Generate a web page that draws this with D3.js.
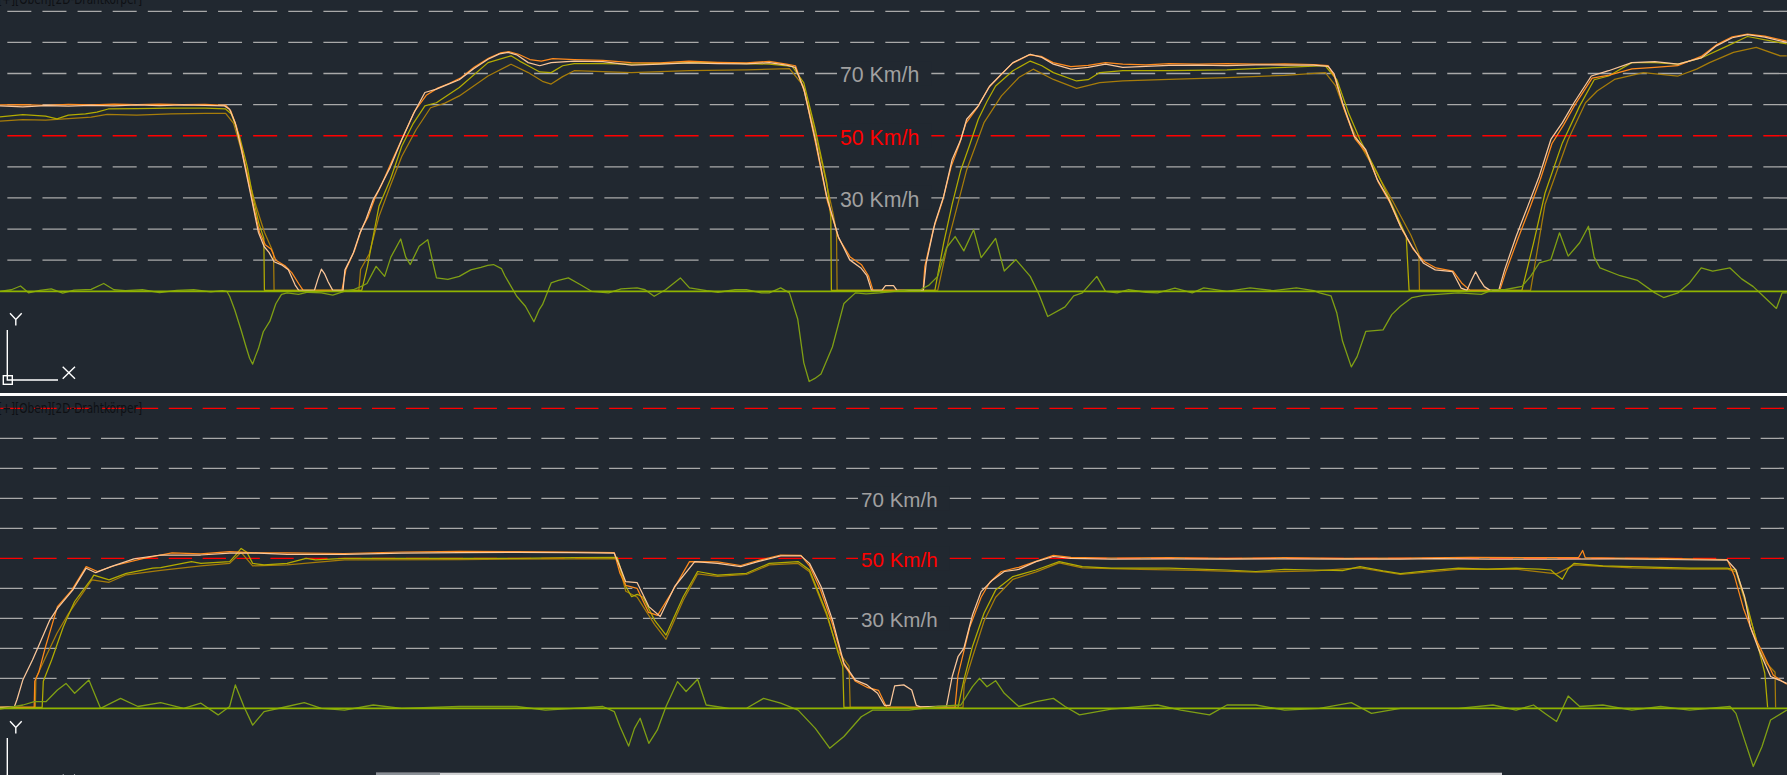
<!DOCTYPE html>
<html><head><meta charset="utf-8">
<script src="https://cdn.jsdelivr.net/npm/d3@7"></script>
<style>html,body{margin:0;padding:0;background:#212830;overflow:hidden}</style>
</head><body>
<svg id="c" width="1787" height="775"></svg>
<script>
// ---------- DATA (distance units 0..1568, speed in km/h) ----------
const viewTitle = "[+][Oben][2D-Drahtkörper]";
const gridValuesTop = [10,20,30,40,50,60,70,80,90];
const redValuesTop = [50];
const gridValuesBottom = [10,20,30,40,50,60,70,80,90,100];
const redValuesBottom = [50,100];
const labelValues = [70,50,30];
const labelUnit = "Km/h";

const topPeach = [[0,59.6],[20,59.3],[40,59.7],[60,59.5],[80,59.8],[100,59.6],[120,59.9],[140,59.7],[160,59.9],[180,59.8],[197,59.6],[201.5,58.5],[206.5,54],[211.6,46],[216.6,37],[221.7,28],[226.7,19],[231.7,14.4],[236,12.5],[240.5,9.5],[247,8.5],[253,6.9],[259,2],[262,0.4],[270,0.3],[276,0.4],[279,4],[282,7.1],[285,5.5],[288,3],[292,0.3],[301,0.3],[302.6,6.8],[310,12.3],[315.8,18.7],[321,23],[327.5,29.5],[332.5,32.7],[342.6,40],[352.6,48.8],[362.7,57],[372.8,63.9],[382.9,65],[393,66.5],[403,68],[415.6,71.5],[428.2,74.6],[438.3,76.3],[445.8,76.8],[453.4,76],[463.5,73.5],[473.6,72.5],[483.6,73.5],[503.8,74],[529,73.8],[554,72.7],[579,73],[604.5,73.4],[629.7,73.2],[655,73.1],[675,73.5],[690,72.7],[697.7,72],[705.3,65],[715.4,48.8],[725.4,30.5],[735.5,17.6],[745.6,10.1],[755.7,7.4],[760.7,5],[764.7,0.3],[774,0.4],[777,1.8],[784,1.8],[787,0.3],[810.2,0.3],[812.7,9],[820.3,21.9],[828,30.5],[835.5,42.4],[843.1,48.8],[848.2,55.3],[858.4,59.6],[868.5,66],[878.7,69.8],[888.8,73.5],[904,76.2],[914.2,75.2],[924.3,73],[939.6,71.4],[954.8,72],[970,73],[985.2,72],[1005.5,72.3],[1025.8,72.6],[1051.2,72.7],[1076.6,72.5],[1102,72.8],[1127.3,72.7],[1152.7,72.7],[1165.4,72.3],[1170.5,70],[1178,60.6],[1188.2,49.9],[1198.4,45.5],[1208.5,35.9],[1218.7,29.5],[1228.8,20.9],[1239,14.4],[1249.1,9],[1259.3,6.9],[1274.5,6.3],[1282.1,1],[1287.2,0.3],[1291,3.5],[1294.8,6.3],[1298,4],[1302.4,1.5],[1307.5,0.3],[1315.1,0.4],[1320.2,6.9],[1330.3,17.6],[1340.5,27.3],[1350.6,37],[1360.8,48.8],[1370.9,54.2],[1381.1,60.6],[1396.3,69.2],[1411.5,70.9],[1431.8,73.5],[1452.1,73.8],[1472.4,73],[1492.7,75],[1506,78.9],[1520,81.5],[1533.3,82.5],[1548.5,81.7],[1567.8,80]];
const topOrange = [[0,59.9],[20,60],[40,59.8],[60,60.1],[80,59.9],[100,60.2],[120,60],[140,60.2],[160,60],[180,60.1],[198,59.8],[202.5,58],[207.5,53],[212.6,45],[217.6,36],[222.7,27],[227.7,19],[232.7,15],[238,13.5],[242,10],[250,8.2],[256,6],[262,2.5],[266,0.3],[300,0.3],[303.5,7],[311,13],[317,19.8],[323,24],[329,30],[334.5,34],[344,42],[354,50],[364,58],[374,63],[384,65.3],[394,66.8],[404,68.5],[416,72],[429,75],[439,76.6],[447,77],[455,76.2],[465,74.5],[475,74],[485,74.8],[504,74.5],[529,74.2],[554,73.5],[579,73.4],[604.5,74],[629.7,73.6],[655,73.4],[675,73.9],[690,73],[698,72.5],[706,64],[716,47],[726,29],[736,17],[746,11],[756,8.5],[762,5],[766,0.3],[810,0.3],[811.5,8],[819,20],[827,29],[834.5,40],[842,47.5],[847.5,54],[857.5,59],[867.5,65.5],[878,69.5],[888,73.2],[903,76],[913.5,75.5],[924,73.5],[939.6,72.2],[954.8,72.6],[970,73.5],[985.2,73],[1005.5,72.8],[1025.8,73.2],[1051.2,73],[1076.6,73.2],[1102,73],[1127.3,73.1],[1152.7,72.9],[1165.4,72.5],[1171,69],[1179,59],[1189,49],[1199,44.5],[1209.5,35],[1219.7,28.5],[1230,20],[1240,13.5],[1250,9.5],[1260,7.5],[1275,6.5],[1283,2.5],[1290,0.3],[1316,0.3],[1321,6],[1331,16],[1341.5,26],[1351.6,36],[1361.8,47.5],[1372,53.5],[1382,60],[1397,68.5],[1412,69.5],[1432,71.5],[1452,72],[1472,72.5],[1492.7,75.5],[1506,79.2],[1520,81.8],[1533.3,82.7],[1548.5,82],[1567.8,80.4]];
const topOlive = [[0,56.1],[20,56.8],[40,56.3],[50,55.4],[60,56.6],[75,57],[85,57.6],[95,58.6],[120,58.7],[150,58.9],[180,58.9],[198,58.6],[203,57],[210,50],[217,40],[222,30],[227,22],[231.5,17],[232,0.3],[317.4,0.3],[322.4,8],[332.5,27.3],[342.6,36],[352.6,46.7],[362.7,54],[372.8,59.6],[382.9,60.6],[403,65.5],[428.2,73.5],[448.4,75.7],[456,74],[463.5,72.5],[473.6,70.5],[483.6,70.3],[493.7,72.5],[503.8,73.2],[529,73.2],[554,73],[579,73.2],[604.5,73.5],[629.7,73.5],[655,73.2],[675,73],[695.2,72.3],[705.3,67],[715.4,52],[725.4,35],[729,24],[729.5,0.3],[820.3,0.3],[828,15.5],[835.5,28],[843.1,39],[850.8,47],[858.4,55.3],[866,61],[873.6,66],[888.8,70.9],[904,74],[914.2,72.5],[924.3,70.3],[944.6,67.6],[954.8,68],[965,70.3],[985.2,70.9],[1025.8,70.9],[1076.6,71.2],[1127.3,72],[1162.9,72.5],[1173,68],[1183.2,57.4],[1193.3,48.8],[1208.5,38],[1223.7,26],[1233.9,17.6],[1236.4,0.3],[1335.4,0.3],[1345.6,15.5],[1355.7,31.6],[1370.9,47.7],[1386.1,59.6],[1398.8,68],[1411.5,69.2],[1431.8,73.5],[1452.1,73.5],[1472.4,73],[1492.7,75],[1513,78.4],[1533.3,81.9],[1553.6,80.5],[1567.8,79.5]];
const topGold = [[0,54.7],[20,55.2],[40,55],[60,55.5],[80,56],[94,56.9],[120,56.6],[150,57],[180,57.2],[198,57.2],[205,54],[212,45],[219,35],[225,27],[232,19],[238,14],[240,12],[240.5,0.3],[314.9,0.3],[316.4,7],[324,12],[332.5,24],[342.6,34],[352.6,43.4],[365.2,52],[377.8,59],[390.4,60.5],[403,62.8],[428.2,69.2],[448.4,73],[463.5,70.3],[476,67.5],[483.6,66.6],[493.7,69],[503.8,70.9],[554,70.3],[604.5,70.9],[655,71.2],[692.7,71.6],[705,66],[715,51],[725,35],[731,25],[734,19],[734.5,0.3],[822.8,0.3],[833,17.6],[848.2,39],[863.4,54.2],[878.7,62.8],[893.9,68.7],[906.6,71.4],[924.3,68.1],[944.6,65.2],[965,67.1],[985.2,67.6],[1025.8,68.1],[1076.6,68.7],[1127.3,69.4],[1162.9,70.3],[1172,66],[1182,56],[1192,48],[1208,38],[1222,29],[1238,18],[1245,12],[1245.5,0.3],[1343,0.3],[1355.7,28],[1376,48.8],[1391.2,60.6],[1401.4,64.4],[1416.6,68.1],[1442,70.3],[1472.4,69.2],[1488.7,71.4],[1500,73.5],[1521,76.8],[1541,78.4],[1562,75.7],[1567.8,75.7]];
const topAccel = [[0,0],[10,0.5],[18,1.7],[25,-0.5],[35,0.3],[45,0.8],[55,-0.6],[65,0.4],[80,0.6],[91,2.5],[100,0.5],[110,0.2],[125,0.5],[140,-0.4],[155,0.3],[170,0.5],[185,-0.2],[195,0.2],[199,0],[201.5,-1.6],[206,-6],[211.6,-12.5],[216,-18],[219,-21.5],[221.7,-23.4],[224,-21],[226.7,-18.5],[231,-13],[236.8,-9.6],[242,-4],[247,-1],[252,-0.5],[262,-1],[270,-0.3],[282,-0.5],[292,-1.2],[302,0],[310,0.5],[317,1.6],[322,2.5],[330,8],[337.5,4.8],[343,11],[351.6,16.8],[356,11],[360,8.6],[367.8,14.5],[375.3,16.6],[380,9],[383,4.3],[393,3.8],[403,4.8],[413,6.9],[422,7.7],[428,8.3],[433,8.6],[440,7.3],[443,5],[453.4,-1.6],[461,-4.8],[468.5,-9.8],[473,-6],[476,-4.3],[483.6,2.7],[490,3.5],[498.7,4.3],[509,2.2],[519,0],[534,-0.5],[545,0.8],[559,1.1],[566,0.5],[574,-1.6],[584,0.5],[597,4.3],[605,1.1],[620,0.2],[630,-0.3],[645,0.5],[655,0.5],[668,-0.5],[675,-0.5],[685,1.1],[692.7,-0.5],[700,-9],[705.3,-23],[710,-29],[715,-28],[720.4,-26.6],[730.4,-17.9],[740.5,-3.9],[750.6,-0.5],[760,-0.8],[772,-0.5],[797.5,0.5],[807.6,0.5],[815.2,2],[822.8,4.8],[830.5,14],[838.1,17.6],[845.7,13],[854.3,19.8],[860.9,10.8],[867.5,14],[873.6,17],[881.2,6.5],[891.4,10.2],[904,4.8],[911.7,-1],[919.3,-8.1],[934.5,-5],[942.1,-1.5],[949.7,-0.5],[962.4,4.8],[970,0],[980.2,-0.5],[990.3,0.5],[1005.5,-0.3],[1015.7,-0.5],[1030.9,1],[1046.1,-0.5],[1056.3,1.1],[1076.6,0],[1096.9,1.1],[1117.2,0.2],[1137.5,1.1],[1152.7,0.2],[1157.8,-0.5],[1167.9,-1.5],[1173,-7],[1178,-16],[1185.7,-24.3],[1190.8,-21],[1198.4,-12.9],[1213.6,-12.4],[1221.2,-7.5],[1228.8,-4.8],[1239,-2],[1249.1,-1.3],[1279.6,-0.5],[1299.9,-1],[1310,0.5],[1320.2,0.5],[1335.4,1.6],[1343,4.8],[1350.6,9.1],[1360.8,10.2],[1368.4,18.8],[1376,11.3],[1386.1,15.6],[1393.8,20.9],[1398.8,11],[1403.9,7.5],[1421.6,5],[1436.9,3.5],[1452.1,-0.5],[1459.7,-2],[1472.4,-0.5],[1482.5,2.7],[1492.7,7.5],[1502.8,6.5],[1518,7.5],[1528.2,4],[1538.4,1.5],[1548.5,-2],[1558.7,-5.5],[1563.7,-0.5],[1567.8,-0.5]];

const bottomPeach = [[0,0.3],[12.6,0.5],[15,3],[20,9.4],[28.5,16.1],[33.6,20.5],[43.7,29.4],[50.4,33.3],[63.8,39.4],[75.6,46.7],[84,45.2],[97.4,47.2],[117.5,49.8],[141,51.1],[176,51.1],[201.5,51.7],[226.7,51.7],[252,51.3],[302,51.3],[352.6,51.7],[403,51.9],[453.4,52],[503.8,51.9],[539,51.7],[544,47.2],[549,42.2],[559,41.9],[569.3,33.9],[579.3,30.6],[592,40.6],[609.6,48.9],[629.7,48.3],[649.9,47.2],[665,48.9],[685,50.8],[702.8,50.8],[710.3,48.3],[720.4,40.6],[730.5,29.4],[740.5,15],[750.6,9.4],[760.7,7.8],[770,5],[776,1],[781,1],[785,7.5],[793,7.8],[800,6.1],[804,1],[807.6,0.5],[830.5,0.7],[835.5,10.6],[840.6,17.2],[845.7,20],[853.3,31.1],[860.9,38.9],[871,42.8],[881.2,45.6],[893.9,46.3],[909,48.9],[924.3,50.6],[939.6,50],[975,49.7],[1026,49.8],[1076,49.7],[1127,49.8],[1178,49.7],[1229,49.7],[1260,49.9],[1310,49.7],[1360,49.7],[1420,49.8],[1460,49.6],[1515.5,49.4],[1523.2,46.1],[1530.8,37.2],[1535.8,27.2],[1543.4,19.4],[1553.6,10.6],[1567.8,8.3]];
const bottomOrange = [[0,0.3],[30,0.3],[30.5,9],[34,12],[40,20.6],[50.4,33.9],[63,39.4],[75.6,47.2],[85.6,45.6],[100.8,47.6],[126,50],[151,51.8],[176,51.5],[201.5,52.2],[226.7,51.8],[252,51.8],[302,51.6],[352.6,52.1],[403,52.3],[453.4,52.2],[503.8,52.1],[539,51.9],[544,45],[549,41],[559,40],[569,32],[577,31],[590,39],[605,48.9],[629.7,48.8],[649.9,47.6],[665,49.2],[685,51.1],[702.8,51],[710.3,47.5],[720.4,39],[730.5,28],[740.5,14.5],[750.6,9],[760.7,7],[770.8,6],[778,0.3],[838,0.3],[840.6,11],[850.8,27],[860.9,37],[868.5,42],[878.7,45.6],[893.9,47],[909,49],[924.3,51],[939.6,50.3],[975,50.1],[1026,50.2],[1076,50],[1127,50.2],[1178,50],[1229,50.1],[1290,50.3],[1385,50.2],[1388.7,52.6],[1391,50.2],[1420,50.1],[1460,50],[1515.5,49.6],[1522,44],[1530,33],[1538,25],[1546,19],[1556,11],[1567.8,8]];
const bottomOlive = [[0,0.3],[37,0.3],[38,9],[45.3,16.1],[55.4,27],[58.8,30],[65.5,35.6],[80.6,43.3],[82.3,44.4],[95.7,42.8],[110.8,45],[134,46.7],[141,46.9],[168,48.9],[176.3,48.3],[201.5,48.9],[206.5,51],[211.6,53.3],[216.6,52],[221.7,48.3],[231.7,47.8],[251.9,48.3],[268.6,50],[277,49.5],[302.3,50],[352.6,50],[403,50],[453.4,50],[503.8,50.2],[541.6,50.3],[549.1,40.6],[554.2,37.2],[559.2,38],[564.2,37],[574.3,29.4],[584.4,24.4],[599.5,37.2],[612.1,45.6],[629.7,44.4],[655,45],[675,48.3],[700.3,48.9],[710.3,46.1],[725.4,31.7],[735.5,18.3],[739.5,13.9],[740.5,0.3],[840.6,0.3],[845.7,9.4],[853.3,20.6],[863.4,31.7],[873.6,39.4],[888.8,43.9],[909.1,46.1],[929.4,48.9],[949.7,47.2],[975.1,46.7],[1000.5,46.7],[1025.8,46.7],[1051.2,46.4],[1076.6,46.1],[1102,45.6],[1127.3,46.3],[1152.7,46.1],[1178,45.9],[1193.3,47.2],[1213.6,45.8],[1228.8,44.9],[1254.2,45.9],[1279.6,46.7],[1304.9,46.4],[1330.3,46.7],[1350.6,46.4],[1360.8,46.1],[1365.8,44.4],[1370.9,43],[1376,46.5],[1381.1,48.3],[1406.4,47.5],[1431.8,47.2],[1457.2,47],[1482.5,46.7],[1515.5,46.7],[1523.2,46.1],[1533.3,33.9],[1543.4,19.4],[1548.5,11.7],[1551,0.3]];
const bottomGold = [[0,0.3],[31,0.3],[31.5,10],[40,17],[50,25],[60,31.5],[70,37],[80.6,42.8],[95.7,42],[110.8,44.5],[141,46],[176.3,47.5],[201.5,48.3],[211.6,52],[221.7,47.5],[251.9,47.8],[302.3,49.5],[403,49.6],[503.8,49.8],[541.6,49.9],[549.1,39],[559.2,37],[574.3,28],[584.4,23],[599.5,36],[612.1,44.8],[629.7,44],[655,44.6],[675,47.8],[700.3,48.3],[710.3,45.5],[725.4,31],[735.5,19],[745,14],[746,0.3],[845,0.3],[846,8],[853.3,17],[863.4,29],[873.6,37],[888.8,43],[909.1,45.5],[929.4,48.5],[949.7,46.8],[1000.5,46.3],[1051.2,46],[1102,45.4],[1152.7,45.8],[1193.3,46.8],[1228.8,44.6],[1279.6,46.3],[1330.3,46.4],[1365.8,44.8],[1381.1,47.8],[1431.8,46.8],[1482.5,46.4],[1515.5,46.5],[1523.2,45.5],[1533.3,33],[1543.4,20],[1550,15],[1557.5,12],[1558,0.3]];
const bottomAccel = [[0,-0.3],[20.2,1.1],[30.2,2.2],[40.3,2.2],[50.4,6.1],[57.9,8.3],[65.5,5],[78,9.4],[88.2,0],[105.8,3.3],[121,0.6],[141,1.9],[161.2,0],[176.3,1.7],[191.4,-2.2],[201.5,0.6],[206.5,7.8],[214,0.6],[221.7,-5.6],[231.7,-1.1],[251.9,0.6],[267,1.9],[282,0],[302.3,-0.6],[327.5,1.1],[352.6,0],[403,0.6],[453.4,0.6],[478.6,-0.6],[503.8,0],[529,0.6],[539,-1.1],[544,-6.1],[551.6,-12.6],[556.7,-6.7],[561.7,-3.3],[569.3,-11.7],[576.8,-7.2],[584.4,0.6],[594.5,8.9],[602,5.6],[612.1,9.7],[619.6,1.1],[639.8,0],[655,0],[670,3.3],[685,1.7],[700.3,-0.6],[715.4,-6.7],[728,-13.3],[740.5,-9.4],[755.7,-2.8],[765.7,-0.6],[772.1,-0.6],[797.5,-0.6],[822.8,0.6],[843.1,1.1],[853.3,7.2],[859.4,10],[866,7.2],[873.6,9.2],[881.2,5],[893.9,0.6],[909.1,2.2],[924.3,3.3],[934.5,0.6],[947.2,-2.2],[975.1,-0.3],[1015.7,1.1],[1036,-0.6],[1061.3,-2.2],[1076.6,1.1],[1102,1.1],[1127.3,-0.6],[1157.8,0],[1185.7,1.9],[1203.4,-1.7],[1228.8,0],[1279.6,0],[1310,1.1],[1330.3,-0.6],[1345.6,1.1],[1355.7,-1.7],[1365.8,-4.4],[1376,4.1],[1386.1,0.6],[1406.4,1.1],[1431.8,-0.6],[1457.2,0.6],[1482.5,-0.6],[1518,0.6],[1523.2,-1.7],[1530.8,-10.6],[1538.4,-19.4],[1546,-12.8],[1553.6,-3.9],[1567.8,-0.6]];

// ---------- LAYOUT / STYLE ----------
const W = 1787, H = 775;
const BG = "#212830";
const COL = {peach:"#fbc79a", orange:"#ff8a1c", olive:"#b3ac00", gold:"#a67c0a", accel:"#7f9f14", base:"#90b400", grid:"#a9a9a9", red:"#ff0000", label:"#a0a0a0"};

const svg = d3.select("#c");
svg.append("rect").attr("width", W).attr("height", H).attr("fill", BG);

const x = d3.scaleLinear().domain([0, 1568]).range([0, W]);

const panels = [
  { y: d3.scaleLinear().domain([0, 90]).range([291.3, 11.3]), clip:[0,393],
    grid: gridValuesTop, red: redValuesTop, dash:[24, 11.12], first:7.33,
    labelX: 840, fs: 21.3, lblDy: 8.9, titleY: 4, ucsDy: 0,
    series: [[topGold,COL.gold],[topOlive,COL.olive],[topOrange,COL.orange],[topPeach,COL.peach]],
    accel: topAccel },
  { y: d3.scaleLinear().domain([0, 100]).range([708.3, 408.3]), clip:[396,775],
    grid: gridValuesBottom, red: redValuesBottom, dash:[23.3, 10.57], first:-0.57,
    labelX: 861, fs: 20.6, lblDy: 8.4, titleY: 412.5, ucsDy: 408,
    series: [[bottomGold,COL.gold],[bottomOlive,COL.olive],[bottomOrange,COL.orange],[bottomPeach,COL.peach]],
    accel: bottomAccel }
];

panels.forEach((p, i) => {
  const cid = "clip" + i;
  svg.append("clipPath").attr("id", cid).append("rect")
    .attr("x", 0).attr("y", p.clip[0]).attr("width", W).attr("height", p.clip[1] - p.clip[0]);
  const g = svg.append("g").attr("clip-path", `url(#${cid})`);
  const period = p.dash[0] + p.dash[1];
  const off = ((period - p.first) % period + period) % period;

  // grid lines
  g.selectAll("line.grid").data(p.grid).join("line")
    .attr("x1", 0).attr("x2", W)
    .attr("y1", d => p.y(d)).attr("y2", d => p.y(d))
    .attr("stroke", d => p.red.includes(d) ? COL.red : COL.grid)
    .attr("stroke-width", 1.3)
    .attr("stroke-dasharray", p.dash.join(","))
    .attr("stroke-dashoffset", off);

  // labels with background masks
  labelValues.forEach(v => {
    const t = g.append("text")
      .attr("x", p.labelX).attr("y", p.y(v) + p.lblDy)
      .attr("font-family", "Liberation Sans, Arial, sans-serif")
      .attr("font-size", p.fs)
      .attr("fill", p.red.includes(v) ? COL.red : COL.label)
      .text(`${v} ${labelUnit}`);
    const w = t.node().getComputedTextLength();
    g.insert("rect", "text")
      .attr("x", p.labelX - 3).attr("y", p.y(v) - 12)
      .attr("width", w + 15).attr("height", 24).attr("fill", BG);
  });

  // speed traces
  const line = d3.line().x(d => x(d[0])).y(d => p.y(d[1]));
  p.series.forEach(([data, c]) => {
    g.append("path").datum(data).attr("d", line)
      .attr("fill", "none").attr("stroke", c).attr("stroke-width", 1.25)
      .attr("stroke-linejoin", "round");
  });
  // acceleration-like green line
  g.append("path").datum(p.accel).attr("d", line)
    .attr("fill", "none").attr("stroke", COL.accel).attr("stroke-width", 1.3)
    .attr("stroke-linejoin", "round");
  // baseline
  g.append("line").attr("x1", 0).attr("x2", W)
    .attr("y1", p.y(0)).attr("y2", p.y(0))
    .attr("stroke", COL.base).attr("stroke-width", 1.7);

  // view title
  g.append("text").attr("x", -2).attr("y", p.titleY)
    .attr("font-family", "Liberation Sans Narrow, DejaVu Sans Condensed, sans-serif")
    .attr("font-size", 13.5).attr("fill", "#0e1014")
    .attr("textLength", 144).attr("lengthAdjust", "spacingAndGlyphs")
    .text(viewTitle);

  // UCS icon
  const u = g.append("g").attr("transform", `translate(0,${p.ucsDy})`)
    .attr("stroke", "#ffffff").attr("stroke-width", 1.4).attr("fill", "none");
  u.append("path").attr("d", "M7.3,330 L7.3,380 L58,380");
  u.append("rect").attr("x", 3.3).attr("y", 375.7).attr("width", 9).attr("height", 8.6);
  u.append("path").attr("d", "M10,313.3 L15.8,319.5 L21.7,313.3 M15.8,319.5 L15.8,325.5");
  u.append("path").attr("d", "M62.7,366.7 L75,378.7 M75,366.7 L62.7,378.7");
});

// divider between the two viewports
svg.append("rect").attr("x", 0).attr("y", 393).attr("width", W).attr("height", 3).attr("fill", "#ffffff");

// horizontal scrollbar at the bottom
svg.append("rect").attr("x", 376).attr("y", 772.7).attr("width", 1502 - 376).attr("height", 2.5).attr("fill", "#cfd0d2");
svg.append("rect").attr("x", 376).attr("y", 772.7).attr("width", 64).attr("height", 2.5).attr("fill", "#8a8f96");
</script>
</body></html>
